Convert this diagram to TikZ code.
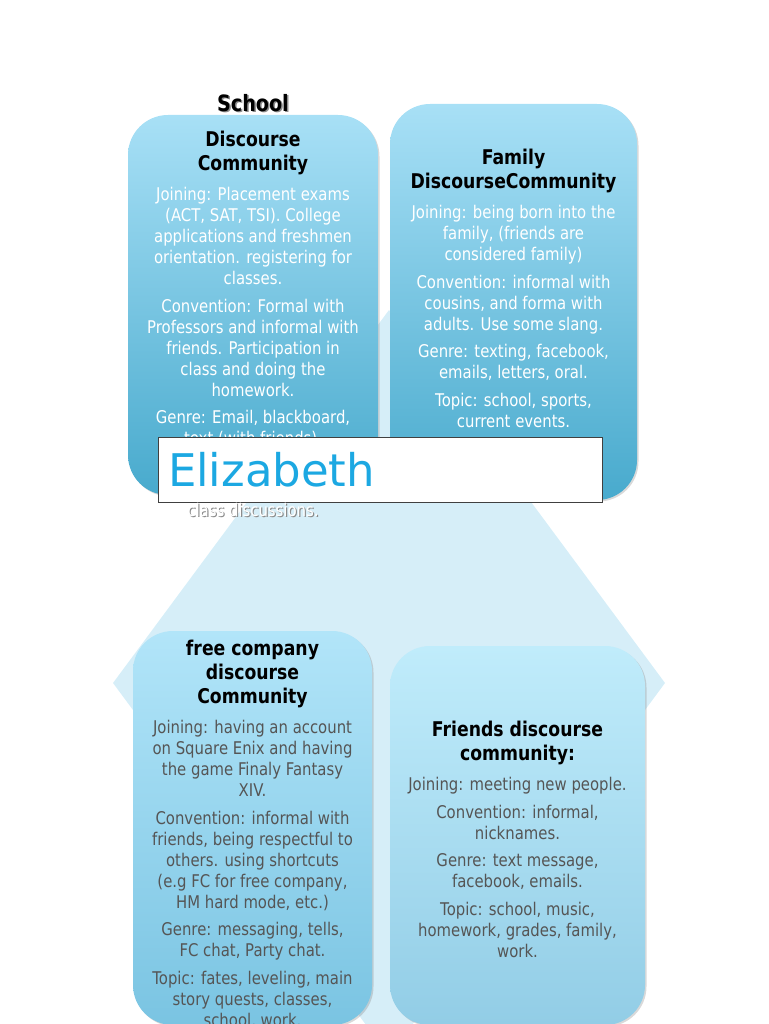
\documentclass[tikz,border=0pt]{standalone}
\usepackage{fontspec}
\setmainfont{DejaVu Sans}[FakeStretch=0.85]
\newfontfamily\namefont{DejaVu Sans}
\usetikzlibrary{positioning,shadows}
\definecolor{diamondBg}{RGB}{214,238,248}
\definecolor{topHi}{RGB}{168,224,246}
\definecolor{topLo}{RGB}{72,170,205}
\definecolor{fcHi}{RGB}{178,229,249}
\definecolor{fcLo}{RGB}{122,196,226}
\definecolor{frHi}{RGB}{192,236,251}
\definecolor{frLo}{RGB}{146,205,230}
\definecolor{bodyGray}{RGB}{85,85,85}
\definecolor{nameBlue}{RGB}{28,168,226}
\newcommand{\titlefont}{\fontsize{20.3}{24}\selectfont\bfseries}
\newcommand{\bodyfont}{\fontsize{17.5}{21}\selectfont}

\begin{document}
\begin{tikzpicture}[x=1pt, y=-1pt,
    every node/.style={inner sep=0pt},
    combox/.style={rectangle, rounded corners=40pt, draw=none,
                drop shadow={opacity=0.3, shadow xshift=1.5pt, shadow yshift=-1.5pt}},
    title/.style={align=center, font=\titlefont, text=black, anchor=north},
    bodytop/.style={align=center, font=\bodyfont, text=white, anchor=north},
    bodybot/.style={align=center, font=\bodyfont, text=bodyGray, anchor=north},
    txtshadow/.style={text=black!45},
    namebox/.style={draw=black!75, line width=0.8pt, fill=white,
                minimum width=444pt, minimum height=65pt, text width=424pt,
                align=left, font=\namefont\fontsize{45}{50}\selectfont, text=nameBlue}
]
  \useasboundingbox (0,0) rectangle (768,1024);
  \clip (0,0) rectangle (768,1024);

  % --- Background diamond ---
  \fill[diamondBg] (389,310) -- (665,683) -- (389,1056) -- (113,683) -- cycle;

  % --- Four community boxes ---
  \node[combox, top color=topHi, bottom color=topLo,
        minimum width=250pt, minimum height=380pt] (school) at (253,305) {};
  \node[combox, top color=topHi, bottom color=topLo,
        minimum width=247pt, minimum height=396pt] (family) at (513.5,302) {};
  \node[combox, top color=fcHi, bottom color=fcLo,
        minimum width=239pt, minimum height=394pt] (freeco) at (252.5,828) {};
  \node[combox, top color=frHi, bottom color=frLo,
        minimum width=255pt, minimum height=379pt] (friends) at (517.5,835.5) {};

  % --- School ---
  \node[title, anchor=center, txtshadow, font=\fontsize{22.5}{26}\selectfont\bfseries]
    at (254.5,104.5) {School};
  \node[title, anchor=center, font=\fontsize{22.5}{26}\selectfont\bfseries]
    (schoolHead) at (253,103) {School};
  \node[title] (schoolTitle) at ([yshift=-16pt]school.north) {Discourse\\Community};
  \node[bodytop, below=12pt of schoolTitle] (schoolText) {%
    Joining: Placement exams\\(ACT, SAT, TSI). College\\applications and freshmen\\
    orientation. registering for\\classes.\\[6.5pt]
    Convention: Formal with\\Professors and informal with\\friends. Participation in\\
    class and doing the\\homework.\\[6.5pt]
    Genre: Email, blackboard,\\text (with friends).};

  % --- Family ---
  \node[title] (familyTitle) at ([yshift=-45pt]family.north) {Family\\DiscourseCommunity};
  \node[bodytop, below=12pt of familyTitle] (familyText) {%
    Joining: being born into the\\family, (friends are\\considered family)\\[6.5pt]
    Convention: informal with\\cousins, and forma with\\adults. Use some slang.\\[6.5pt]
    Genre: texting, facebook,\\emails, letters, oral.\\[6.5pt]
    Topic: school, sports,\\current events.};

  % --- Free company ---
  \node[title] (freecoTitle) at ([yshift=-9pt]freeco.north) {free company\\discourse\\Community};
  \node[bodybot, below=12pt of freecoTitle] (freecoText) {%
    Joining: having an account\\on Square Enix and having\\the game Finaly Fantasy\\XIV.\\[6.5pt]
    Convention: informal with\\friends, being respectful to\\others. using shortcuts\\
    (e.g FC for free company,\\HM hard mode, etc.)\\[6.5pt]
    Genre: messaging, tells,\\FC chat, Party chat.\\[6.5pt]
    Topic: fates, leveling, main\\story quests, classes,\\school, work.};

  % --- Friends ---
  \node[title] (friendsTitle) at ([yshift=-75pt]friends.north) {Friends discourse\\community:};
  \node[bodybot, below=12pt of friendsTitle] (friendsText) {%
    Joining: meeting new people.\\[6.5pt]
    Convention: informal,\\nicknames.\\[6.5pt]
    Genre: text message,\\facebook, emails.\\[6.5pt]
    Topic: school, music,\\homework, grades, family,\\work.};

  % --- Name box over the top pair ---
  \node[namebox] (elizabeth) at (380,469.5) {Elizabeth};
  \node[bodytop, anchor=center, txtshadow] at (254.2,511.2) {class discussions.};
  \node[bodytop, anchor=center] (schoolTail) at (253,510) {class discussions.};
\end{tikzpicture}
\end{document}
